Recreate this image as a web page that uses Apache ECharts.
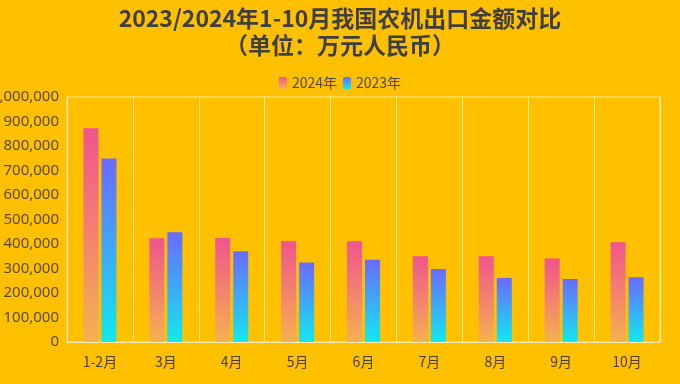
<!DOCTYPE html>
<html><head><meta charset="utf-8">
<script src="https://cdn.jsdelivr.net/npm/echarts@6/dist/echarts.min.js"></script>
<style>html,body{margin:0;padding:0;background:#FFC000;}#c{width:680px;height:384px;}</style>
</head><body><div id="c"></div>
<script>
const categories = ['1-2月','3月','4月','5月','6月','7月','8月','9月','10月'];
const values2024 = [872000, 423000, 425000, 411000, 411000, 350000, 350000, 341000, 407000];
const values2023 = [749000, 448000, 370000, 325000, 336000, 298000, 261000, 257000, 264000];
const seriesNames = ['2024年', '2023年'];

const chart = echarts.init(document.getElementById('c'));
const grad = (a, b) => new echarts.graphic.LinearGradient(0, 0, 0, 1, [{offset: 0, color: a}, {offset: 1, color: b}]);
chart.setOption({
  backgroundColor: '#FFC000',
  title: {
    text: '2023/2024年1-10月我国农机出口金额对比\n（单位：万元人民币）',
    left: 'center', top: 0,
    textStyle: {fontFamily: 'Noto Sans CJK SC', fontSize: 23, fontWeight: 'bold', color: '#3f3f3f', lineHeight: 27}
  },
  legend: {
    top: 71, left: 'center', itemWidth: 8, itemHeight: 12, itemGap: 6,
    textStyle: {fontFamily: 'Noto Sans CJK SC', fontSize: 14, color: '#4a4a4a'},
    data: seriesNames
  },
  grid: {left: 67, right: 20, top: 97, bottom: 42, containLabel: false, outerBoundsMode: 'none',
    show: true, borderColor: 'rgba(255,255,255,0.6)', borderWidth: 1},
  xAxis: {
    type: 'category', data: categories,
    axisLine: {lineStyle: {color: 'rgba(255,255,255,0.6)'}},
    axisTick: {show: false},
    splitLine: {show: true, lineStyle: {color: 'rgba(255,255,255,0.6)'}},
    axisLabel: {fontFamily: 'Noto Sans CJK SC', fontSize: 14, color: '#4a4030', margin: 13}
  },
  yAxis: {
    type: 'value', min: 0, max: 1000000, interval: 100000,
    axisLine: {show: false}, axisTick: {show: false},
    splitLine: {show: false},
    axisLabel: {fontFamily: 'Noto Sans', fontSize: 15, color: '#5a4a28', margin: 8,
      formatter: v => v.toLocaleString('en-US')}
  },
  series: [
    {name: seriesNames[0], type: 'bar', data: values2024, barWidth: 15, barGap: '20%',
     itemStyle: {color: grad('#f0548e', '#f5b150')}},
    {name: seriesNames[1], type: 'bar', data: values2023, barWidth: 15,
     itemStyle: {color: grad('#6a6aff', '#12e8f0')}}
  ]
});
</script></body></html>
